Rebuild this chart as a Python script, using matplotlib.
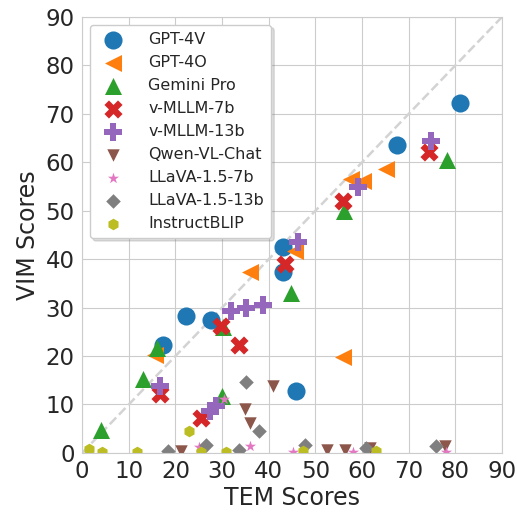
import matplotlib
matplotlib.use("Agg")
import matplotlib.pyplot as plt
import seaborn as sns

# TEM / VIM score pairs, one list per model
models = ["GPT-4V", "GPT-4O", "Gemini Pro", "v-MLLM-7b", "v-MLLM-13b",
          "Qwen-VL-Chat", "LLaVA-1.5-7b", "LLaVA-1.5-13b", "InstructBLIP"]

gpt4v_tem = [17.4, 22.2, 27.7, 43.0, 43.0, 45.9, 67.4, 80.9]
gpt4v_vim = [22.2, 28.3, 27.5, 42.5, 37.3, 12.8, 63.5, 72.2]

gpt4o_tem = [15.7, 36.0, 45.7, 55.9, 57.7, 60.2, 65.2]
gpt4o_vim = [20.3, 37.3, 41.7, 19.7, 56.6, 56.2, 58.6]

gemini_tem = [4.1, 13.0, 16.0, 30.0, 30.2, 44.7, 56.1, 78.2]
gemini_vim = [4.8, 15.2, 21.7, 11.7, 26.0, 33.1, 50.0, 60.4]

vmllm7_tem = [16.6, 25.5, 29.8, 33.7, 43.4, 55.9, 74.4]
vmllm7_vim = [12.1, 7.2, 26.2, 22.3, 39.0, 52.1, 62.1]

vmllm13_tem = [16.7, 27.3, 28.7, 31.9, 35.2, 38.7, 46.2, 59.2, 74.8]
vmllm13_vim = [13.9, 8.6, 9.6, 29.3, 30.0, 30.5, 43.5, 54.9, 64.3]

qwen_tem = [21.2, 34.9, 35.9, 40.9, 52.5, 56.4, 61.6, 77.8]
qwen_vim = [0.3, 9.1, 6.2, 13.7, 0.5, 0.5, 1.0, 1.5]

llava7_tem = [25.0, 30.3, 35.9, 45.1, 58.0, 78.0]
llava7_vim = [1.2, 11.2, 1.5, 0.1, 0.1, 0.1]

llava13_tem = [18.4, 26.6, 33.7, 35.2, 37.8, 47.8, 60.9, 75.9]
llava13_vim = [0.3, 1.7, 0.6, 14.6, 4.6, 1.7, 1.0, 1.4]

blip_tem = [1.4, 4.3, 11.7, 22.8, 25.5, 30.9, 47.3, 62.9]
blip_vim = [0.7, 0.1, 0.1, 4.5, 0.1, 0.1, 0.4, 0.4]

tem_scores = [gpt4v_tem, gpt4o_tem, gemini_tem, vmllm7_tem, vmllm13_tem,
              qwen_tem, llava7_tem, llava13_tem, blip_tem]
vim_scores = [gpt4v_vim, gpt4o_vim, gemini_vim, vmllm7_vim, vmllm13_vim,
              qwen_vim, llava7_vim, llava13_vim, blip_vim]

markers = ["o", "<", "^", "X", "P", "v", "*", "D", "h"]
sizes = [170, 150, 150, 170, 170, 80, 70, 55, 70]
colors = sns.color_palette("tab10", 9)

sns.set_style("whitegrid")
plt.rcParams["font.family"] = ["DejaVu Sans"]

fig = plt.figure(figsize=(5.17, 5.14), dpi=100)
ax = fig.add_axes([0.159, 0.119, 0.812, 0.848])

# diagonal reference line
ax.plot([0, 90], [0, 90], color="lightgray", linestyle="--", linewidth=1.8, zorder=1)

for name, x, y, m, s, c in zip(models, tem_scores, vim_scores, markers, sizes, colors):
    ax.scatter(x, y, marker=m, s=s, color=c, linewidths=0, label=name, zorder=2)

ax.set_xlim(0, 90)
ax.set_ylim(0, 90)
ax.set_xticks(range(0, 91, 10))
ax.set_yticks(range(0, 91, 10))
ax.tick_params(labelsize=16.5, pad=2)
ax.set_xlabel("TEM Scores", fontsize=17, labelpad=2)
ax.set_ylabel("VIM Scores", fontsize=17, labelpad=4)

ax.legend(loc="upper left", fontsize=11.5, frameon=True,
          shadow={"color": "0.5", "alpha": 0.25},
          labelspacing=0.5, borderpad=0.45, handletextpad=1.2)

plt.savefig("out.png", dpi=100)
